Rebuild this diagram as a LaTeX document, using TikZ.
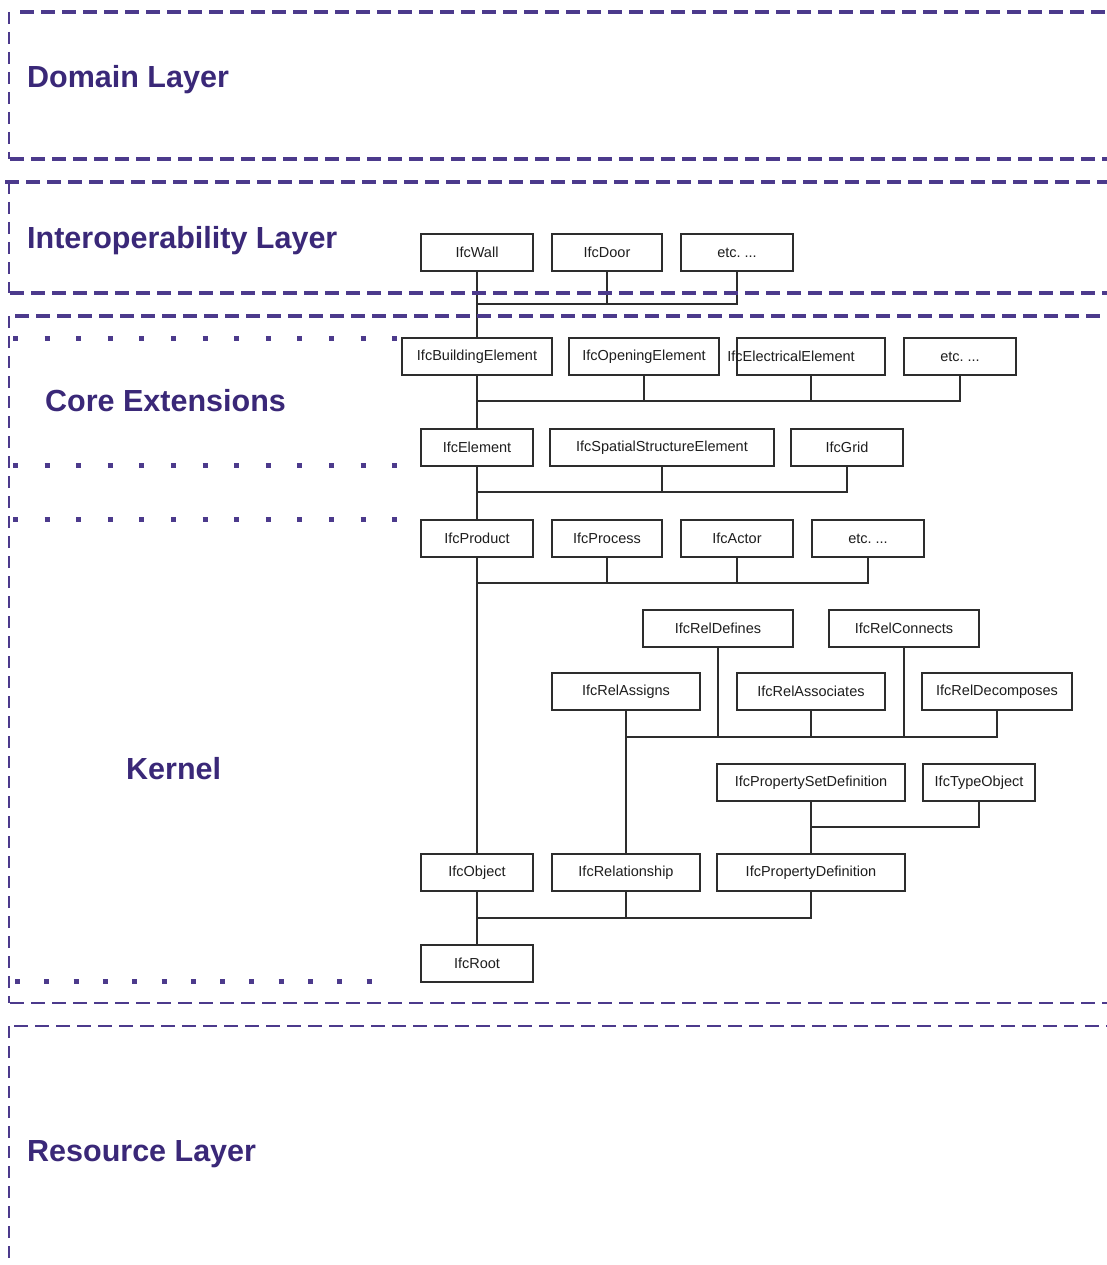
\documentclass[tikz,border=0pt]{standalone}
\usepackage{fontspec}
\setmainfont{Liberation Sans}
\frenchspacing
\begin{document}
\definecolor{layerc}{RGB}{76,58,140}
\definecolor{titlec}{RGB}{58,40,120}
\definecolor{boxc}{RGB}{45,45,45}
\definecolor{labelc}{RGB}{30,30,30}
\begin{tikzpicture}[x=1pt,y=-1pt,
  box/.style={draw=boxc, line width=2pt, fill=white, minimum height=37pt,
    inner sep=0pt, font=\fontsize{14.5}{17}\selectfont, text=labelc},
  boxtext/.style={inner sep=0pt, font=\fontsize{14.5}{17}\selectfont, text=labelc},
  conn/.style={draw=boxc, line width=2pt},
  title/.style={anchor=base west, inner sep=0pt, text=titlec,
    font=\fontsize{30.5}{36}\selectfont\bfseries},
  hdash/.style={draw=layerc, line width=3.5pt, dash pattern=on 14pt off 7pt},
  hdashthin/.style={draw=layerc, line width=2.6pt, dash pattern=on 14pt off 7pt},
  vdash/.style={draw=layerc, line width=2.4pt, dash pattern=on 12pt off 8pt},
  dots/.style={draw=layerc, line width=5pt, dash pattern=on 5pt off 26.6pt},
  dotsb/.style={draw=layerc, line width=5pt, dash pattern=on 5pt off 24.3pt}]
\clip (0,0) rectangle (1107,1265);
\fill[white] (0,0) rectangle (1107,1265);

% bus heights
\coordinate (bus1) at (0,304);
\coordinate (bus2) at (0,401);
\coordinate (bus3) at (0,492);
\coordinate (bus4) at (0,583);
\coordinate (bus5) at (0,737);
\coordinate (bus6) at (0,827);
\coordinate (bus7) at (0,918);

% class boxes
\node[box, minimum width=112pt] (wall)   at (477,252.5) {IfcWall};
\node[box, minimum width=110pt] (door)   at (607,252.5) {IfcDoor};
\node[box, minimum width=112pt] (etcA)   at (737,252.5) {etc. ...};

\node[box, minimum width=150pt] (bldg)   at (477,356.5) {IfcBuildingElement};
\node[box, minimum width=150pt] (open)   at (644,356.5) {IfcOpeningElement};
\node[box, minimum width=148pt] (elec)   at (811,356.5) {};
\node[boxtext] (elecl) at (791,356.5) {IfcElectricalElement};
\node[box, minimum width=112pt] (etcB)   at (960,356.5) {etc. ...};

\node[box, minimum width=112pt] (elem)   at (477,447.5) {IfcElement};
\node[box, minimum width=224pt] (spat)   at (662,447.5) {IfcSpatialStructureElement};
\node[box, minimum width=112pt] (grid)   at (847,447.5) {IfcGrid};

\node[box, minimum width=112pt] (prod)   at (477,538.5) {IfcProduct};
\node[box, minimum width=110pt] (proc)   at (607,538.5) {IfcProcess};
\node[box, minimum width=112pt] (actor)  at (737,538.5) {IfcActor};
\node[box, minimum width=112pt] (etcC)   at (868,538.5) {etc. ...};

\node[box, minimum width=150pt] (defs)   at (718,628) {IfcRelDefines};
\node[box, minimum width=150pt] (conns)  at (904,628) {IfcRelConnects};
\node[box, minimum width=148pt] (assg)   at (626,691.5) {IfcRelAssigns};
\node[box, minimum width=148pt] (assoc)  at (811,691.5) {IfcRelAssociates};
\node[box, minimum width=150pt] (decomp) at (997,691.5) {IfcRelDecomposes};

\node[box, minimum width=188pt] (pset)   at (811,782.5) {IfcPropertySetDefinition};
\node[box, minimum width=112pt] (tobj)   at (979,782.5) {IfcTypeObject};

\node[box, minimum width=112pt] (obj)    at (477,872.5) {IfcObject};
\node[box, minimum width=148pt] (rel)    at (626,872.5) {IfcRelationship};
\node[box, minimum width=188pt] (pdef)   at (811,872.5) {IfcPropertyDefinition};

\node[box, minimum width=112pt] (root)   at (477,963.5) {IfcRoot};

% inheritance connectors
\draw[conn] (wall.south) -- (bldg.north);
\draw[conn] (wall.south |- bus1) -| (etcA.south);
\draw[conn] (door.south) -- (door.south |- bus1);

\draw[conn] (bldg.south) -- (elem.north);
\draw[conn] (bldg.south |- bus2) -| (etcB.south);
\draw[conn] (open.south) -- (open.south |- bus2);
\draw[conn] (elec.south) -- (elec.south |- bus2);

\draw[conn] (elem.south) -- (prod.north);
\draw[conn] (elem.south |- bus3) -| (grid.south);
\draw[conn] (spat.south) -- (spat.south |- bus3);

\draw[conn] (prod.south) -- (obj.north);
\draw[conn] (prod.south |- bus4) -| (etcC.south);
\draw[conn] (proc.south) -- (proc.south |- bus4);
\draw[conn] (actor.south) -- (actor.south |- bus4);

\draw[conn] (assg.south) -- (rel.north);
\draw[conn] (assg.south |- bus5) -| (decomp.south);
\draw[conn] (defs.south) -- (defs.south |- bus5);
\draw[conn] (conns.south) -- (conns.south |- bus5);
\draw[conn] (assoc.south) -- (assoc.south |- bus5);

\draw[conn] (pset.south) -- (pdef.north);
\draw[conn] (pset.south |- bus6) -| (tobj.south);

\draw[conn] (obj.south) -- (root.north);
\draw[conn] (obj.south |- bus7) -| (pdef.south);
\draw[conn] (rel.south) -- (rel.south |- bus7);

% layer titles
\node[title] (tdomain) at (27,88)   {Domain Layer};
\node[title] (tinter)  at (27,248)  {Interoperability Layer};
\node[title] (tcore)   at (45,411)  {Core Extensions};
\node[title] (tkernel) at (126,779) {Kernel};
\node[title] (tres)    at (27,1161) {Resource Layer};

% domain layer frame
\draw[hdash] (20,12) -- (1120,12);
\draw[vdash] (9,12) -- (9,159);
\draw[hdash] (10,159) -- (1120,159);

% interoperability layer frame
\draw[hdash] (5,182) -- (1120,182);
\draw[vdash] (9,182) -- (9,293);
\draw[hdash] (10,293) -- (1120,293);

% kernel and core extensions frame
\draw[hdash] (15,316) -- (1120,316);
\draw[vdash] (9,316) -- (9,1003);
\draw[hdashthin] (10,1003) -- (1120,1003);

% core extensions bands
\draw[dots] (13,338) -- (400,338);
\draw[dots] (13,465) -- (400,465);
\draw[dots] (13,519) -- (400,519);
\draw[dotsb] (15,981) -- (380,981);

% resource layer frame
\draw[hdashthin] (14,1026) -- (1120,1026);
\draw[vdash] (9,1026) -- (9,1270);
\end{tikzpicture}
\end{document}
